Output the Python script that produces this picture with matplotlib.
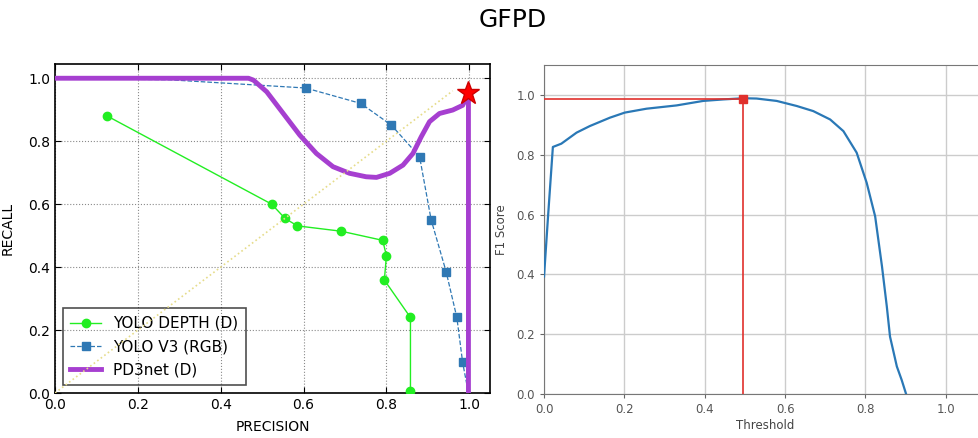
import matplotlib
matplotlib.use("Agg")
import matplotlib.pyplot as plt

# left panel: precision / recall curves
depth_precision = [0.126, 0.523, 0.555, 0.585, 0.691, 0.791, 0.800, 0.795, 0.858, 0.858]
depth_recall = [0.880, 0.600, 0.555, 0.531, 0.514, 0.485, 0.436, 0.359, 0.240, 0.005]

v3_precision = [0.0, 0.278, 0.605, 0.738, 0.812, 0.880, 0.908, 0.944, 0.970, 0.984, 0.998]
v3_recall = [1.0, 0.995, 0.969, 0.920, 0.851, 0.751, 0.550, 0.386, 0.240, 0.097, 0.0]
v3_marked = [2, 3, 4, 5, 6, 7, 8, 9]

pd3_precision = [0.0, 0.467, 0.479, 0.511, 0.551, 0.591, 0.631, 0.671, 0.711, 0.751, 0.776,
                 0.808, 0.840, 0.864, 0.884, 0.904, 0.928, 0.960, 0.984, 0.998, 0.998]
pd3_recall = [1.0, 1.0, 0.994, 0.957, 0.888, 0.819, 0.761, 0.719, 0.698, 0.687, 0.685,
              0.698, 0.724, 0.761, 0.814, 0.862, 0.888, 0.899, 0.914, 0.951, 0.0]

best_pr = (0.996, 0.953)
diag = [0.0, 0.96]

# right panel: F1 vs threshold
threshold = [0.0, 0.010, 0.022, 0.043, 0.081, 0.114, 0.164, 0.201, 0.255, 0.330, 0.396,
             0.446, 0.496, 0.529, 0.579, 0.629, 0.670, 0.712, 0.745, 0.778, 0.803,
             0.824, 0.841, 0.853, 0.861, 0.878, 0.890, 0.901]
f1 = [0.393, 0.594, 0.826, 0.837, 0.874, 0.896, 0.924, 0.941, 0.954, 0.965, 0.980,
      0.985, 0.989, 0.988, 0.980, 0.963, 0.946, 0.918, 0.879, 0.807, 0.706,
      0.594, 0.427, 0.293, 0.192, 0.092, 0.047, 0.0]
best_t = 0.495
best_f1 = 0.985

ticks = [0.0, 0.2, 0.4, 0.6, 0.8, 1.0]

fig = plt.figure(figsize=(9.79, 4.38), dpi=100)
fig.text(0.524, 0.955, "GFPD", ha="center", va="center", fontsize=18)

# ---- left ----
ax = fig.add_axes([0.0562, 0.1027, 0.4443, 0.751])
ax.plot(diag, diag, linestyle=":", color="#e6dc8a", lw=1.2, zorder=6)
ax.plot(depth_precision, depth_recall, "-o", color="#22ee22", lw=1, ms=6,
        markeredgecolor="#22ee22", label="YOLO DEPTH (D)", zorder=3)
ax.plot(v3_precision, v3_recall, "--s", color="#2f78b4", lw=0.9, ms=6,
        markevery=v3_marked, label="YOLO V3 (RGB)", zorder=2)
ax.plot(pd3_precision, pd3_recall, "-", color="#a63fd0", lw=3.5,
        label="PD3net (D)", zorder=4)
ax.plot([best_pr[0]], [best_pr[1]], marker="*", color="red", ms=17,
        markeredgecolor="#cc0000", zorder=7)
ax.set_xlim(0, 1.05)
ax.set_ylim(0, 1.045)
ax.set_xticks(ticks)
ax.set_yticks(ticks)
ax.grid(True, linestyle=":", color="#8a8a8a", lw=0.8)
ax.tick_params(direction="in", top=True, right=True, labelsize=10, length=4)
for s in ax.spines.values():
    s.set_linewidth(1.2)
ax.set_xlabel("PRECISION", fontsize=10, labelpad=6)
ax.set_ylabel("RECALL", fontsize=10, labelpad=10)
leg = ax.legend(loc="lower left", fontsize=11, frameon=True, fancybox=False,
                borderaxespad=0.5, handlelength=2.0, borderpad=0.5, labelspacing=0.55)
leg.get_frame().set_edgecolor("#222222")
leg.get_frame().set_facecolor("none")
leg.get_frame().set_linewidth(1.2)
leg.set_zorder(5)

# ---- right ----
ax2 = fig.add_axes([0.5557, 0.1005, 0.4515, 0.751])
ax2.plot(threshold, f1, color="#2a78b6", lw=1.6, zorder=3)
ax2.plot([0, best_t], [best_f1, best_f1], color="#e0302c", lw=1.2, zorder=4)
ax2.plot([best_t, best_t], [0, best_f1], color="#e0302c", lw=1.2, zorder=4)
ax2.plot([best_t], [best_f1], marker="s", color="#e0302c", ms=6, zorder=5)
ax2.set_xlim(0, 1.1)
ax2.set_ylim(0, 1.1)
ax2.set_xticks(ticks)
ax2.set_yticks(ticks)
ax2.grid(True, color="#cccccc", lw=1)
ax2.set_axisbelow(True)
ax2.tick_params(colors="#666666", labelcolor="#555555", labelsize=8.5, length=3)
for s in ax2.spines.values():
    s.set_color("#777777")
ax2.set_xlabel("Threshold", fontsize=8.5, color="#444444", labelpad=2)
ax2.set_ylabel("F1 Score", fontsize=8.5, color="#444444", labelpad=6)

fig.savefig("out.png", dpi=100)
